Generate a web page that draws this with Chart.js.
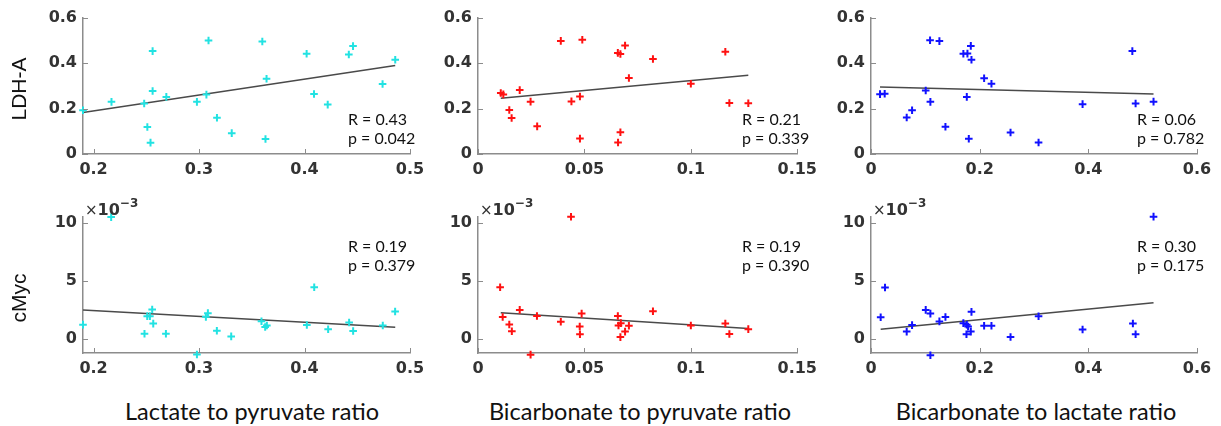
<!DOCTYPE html>
<html>
<head>
<meta charset="utf-8">
<script src="https://cdn.jsdelivr.net/npm/chart.js@4.4.1/dist/chart.umd.min.js"></script>
<style>
  html, body { margin:0; padding:0; background:#fff; }
  body { width:1221px; height:426px; position:relative; overflow:hidden; }
  canvas { position:absolute; }
  .ylab { position:absolute; width:120px; height:24px; line-height:24px; text-align:center;
          font-family:"Liberation Sans", Arial, sans-serif; font-size:21px; color:#111;
          transform:rotate(-90deg); transform-origin:50% 50%; white-space:nowrap; }
  .xtitle { position:absolute; width:400px; height:30px; line-height:30px; text-align:center;
            font-family:Lato, "Open Sans", sans-serif; font-size:23.5px; color:#111; white-space:nowrap; }
  .stat { position:absolute; font-family:Lato, "Open Sans", sans-serif; font-size:16px; color:#111; line-height:19px; white-space:nowrap; }
  .exp { position:absolute; font-family:"DejaVu Sans", sans-serif; font-weight:bold; font-size:16px; color:#333; white-space:nowrap; line-height:1; }
  .exp .times { font-weight:normal; font-size:15px; }
  .exp sup { font-size:12px; position:relative; top:-2px; }
</style>
</head>
<body>
<script>
// ---------- DATA ----------
// Column tick labels
const xTicksLacPyr = [0.2, 0.3, 0.4, 0.5];
const xLabelsLacPyr = ['0.2', '0.3', '0.4', '0.5'];
const xTicksBicPyr = [0, 0.05, 0.1, 0.15];
const xLabelsBicPyr = ['0', '0.05', '0.1', '0.15'];
const xTicksBicLac = [0, 0.2, 0.4, 0.6];
const xLabelsBicLac = ['0', '0.2', '0.4', '0.6'];
const yTicksLDH = [0, 0.2, 0.4, 0.6];
const yLabelsLDH = ['0', '0.2', '0.4', '0.6'];
const yTicksMyc = [0, 5, 10];            // units of 10^-3
const yLabelsMyc = ['0', '5', '10'];

// LDH-A vs Lactate to pyruvate ratio
const ldhLacPyrX = [0.190,0.217,0.256,0.256,0.248,0.251,0.254,0.269,0.298,0.307,0.309,0.317,0.331,0.360,0.364,0.363,0.402,0.409,0.422,0.442,0.446,0.474,0.486];
const ldhLacPyrY = [0.193,0.230,0.454,0.278,0.223,0.119,0.050,0.252,0.230,0.262,0.501,0.160,0.092,0.496,0.332,0.066,0.442,0.265,0.218,0.439,0.476,0.309,0.416];
const ldhLacPyrFitX = [0.190, 0.486];
const ldhLacPyrFitY = [0.183, 0.390];

// LDH-A vs Bicarbonate to pyruvate ratio
const ldhBicPyrX = [0.0107,0.0119,0.0196,0.0147,0.0158,0.0247,0.0278,0.0389,0.0490,0.0439,0.0479,0.0479,0.0657,0.0669,0.0691,0.0709,0.0669,0.0658,0.0822,0.1000,0.1162,0.1181,0.1270];
const ldhBicPyrY = [0.269,0.263,0.282,0.194,0.159,0.231,0.122,0.499,0.504,0.232,0.254,0.068,0.446,0.441,0.479,0.335,0.096,0.051,0.419,0.310,0.451,0.225,0.224];
const ldhBicPyrFitX = [0.0107, 0.127];
const ldhBicPyrFitY = [0.246, 0.347];

// LDH-A vs Bicarbonate to lactate ratio
const ldhBicLacX = [0.0166,0.0252,0.0657,0.0756,0.1007,0.1093,0.1087,0.1259,0.137,0.170,0.1775,0.1837,0.1849,0.1763,0.180,0.2082,0.2217,0.2568,0.3084,0.3894,0.481,0.487,0.520];
const ldhBicLacY = [0.264,0.266,0.161,0.193,0.280,0.230,0.502,0.498,0.120,0.442,0.443,0.477,0.416,0.252,0.067,0.334,0.310,0.095,0.051,0.220,0.454,0.223,0.231];
const ldhBicLacFitX = [0.0166, 0.520];
const ldhBicLacFitY = [0.296, 0.265];

// cMyc (x10^-3) vs Lactate to pyruvate ratio
const mycLacPyrX = [0.190,0.2167,0.2483,0.2509,0.2534,0.2556,0.2566,0.2686,0.298,0.3065,0.3084,0.3169,0.3305,0.3592,0.3627,0.3643,0.4022,0.4092,0.4224,0.4423,0.4461,0.4742,0.4859];
const mycLacPyrY = [1.24,10.49,0.46,1.97,1.97,2.54,1.33,0.46,-1.33,1.91,2.23,0.72,0.23,1.53,1.04,1.16,1.21,4.45,0.84,1.42,0.69,1.16,2.37];
const mycLacPyrFitX = [0.190, 0.486];
const mycLacPyrFitY = [2.49, 1.01];

// cMyc (x10^-3) vs Bicarbonate to pyruvate ratio
const mycBicPyrX = [0.0104,0.0116,0.0196,0.0147,0.0159,0.0247,0.0277,0.0389,0.0437,0.0478,0.0479,0.0487,0.0657,0.066,0.0671,0.0669,0.0691,0.0709,0.0822,0.1,0.1162,0.1181,0.127];
const mycBicPyrY = [4.46,1.90,2.51,1.25,0.67,-1.34,1.98,1.49,10.52,1.08,0.41,2.19,1.98,1.17,1.37,0.17,0.64,1.14,2.39,1.17,1.34,0.44,0.85];
const mycBicPyrFitX = [0.0107, 0.127];
const mycBicPyrFitY = [2.27, 0.90];

// cMyc (x10^-3) vs Bicarbonate to lactate ratio
const mycBicLacX = [0.0178,0.0258,0.0657,0.0756,0.1007,0.1093,0.1093,0.1259,0.137,0.170,0.1763,0.1787,0.1757,0.1837,0.1849,0.2082,0.2217,0.2568,0.3084,0.3894,0.482,0.487,0.520];
const mycBicLacY = [1.87,4.44,0.64,1.20,2.51,2.19,-1.40,1.52,1.90,1.37,1.23,1.08,0.41,0.64,2.34,1.14,1.14,0.18,1.96,0.82,1.34,0.41,10.53];
const mycBicLacFitX = [0.0178, 0.520];
const mycBicLacFitY = [0.85, 3.13];

// Texts
const rowLabels = ['LDH-A', 'cMyc'];
const colTitles = ['Lactate to pyruvate ratio', 'Bicarbonate to pyruvate ratio', 'Bicarbonate to lactate ratio'];
const statR = [['0.43','0.21','0.06'], ['0.19','0.19','0.30']];
const statP = [['0.042','0.339','0.782'], ['0.379','0.390','0.175']];

// ---------- LAYOUT ----------
const colColors = ['#22e2e2', '#ff1111', '#1111ff'];
const cols = [
  { left: 83, right: 410, min: 0.19, max: 0.5, ticks: xTicksLacPyr, labels: xLabelsLacPyr, titleX: 252, statX: 348 },
  { left: 478, right: 801, min: 0, max: 0.15, ticks: xTicksBicPyr, labels: xLabelsBicPyr, titleX: 640, statX: 742 },
  { left: 871, right: 1197, min: 0, max: 0.6, ticks: xTicksBicLac, labels: xLabelsBicLac, titleX: 1036, statX: 1137 }
];
const rows = [
  { top: 18, bottom: 154, min: 0, max: 0.6, ticks: yTicksLDH, labels: yLabelsLDH, labelY: 89, statY: 109 },
  { top: 217, bottom: 353, min: -1.2, max: 10.5, ticks: yTicksMyc, labels: yLabelsMyc, labelY: 298, statY: 236 }
];
const panelData = [
  [[ldhLacPyrX, ldhLacPyrY, ldhLacPyrFitX, ldhLacPyrFitY],
   [ldhBicPyrX, ldhBicPyrY, ldhBicPyrFitX, ldhBicPyrFitY],
   [ldhBicLacX, ldhBicLacY, ldhBicLacFitX, ldhBicLacFitY]],
  [[mycLacPyrX, mycLacPyrY, mycLacPyrFitX, mycLacPyrFitY],
   [mycBicPyrX, mycBicPyrY, mycBicPyrFitX, mycBicPyrFitY],
   [mycBicLacX, mycBicLacY, mycBicLacFitX, mycBicLacFitY]]
];

const Y_AXIS_W = 83, PAD_TOP = 18, PAD_RIGHT = 22, X_AXIS_H = 36;
const axisGray = '#8c8c8c';
const tickFont = { family: '"DejaVu Sans", sans-serif', size: 16, weight: 'bold' };

const inwardTicks = {
  id: 'inwardTicks',
  afterDraw(chart) {
    const { ctx, chartArea: a, scales: { x, y } } = chart;
    ctx.save();
    ctx.strokeStyle = axisGray;
    ctx.lineWidth = 1;
    ctx.beginPath();
    x.ticks.forEach(t => {
      const px = Math.round(x.getPixelForValue(t.value)) + 0.5;
      ctx.moveTo(px, a.bottom); ctx.lineTo(px, a.bottom - 5);
    });
    y.ticks.forEach(t => {
      const py = Math.round(y.getPixelForValue(t.value)) + 0.5;
      ctx.moveTo(a.left, py); ctx.lineTo(a.left + 5, py);
    });
    ctx.stroke();
    ctx.restore();
  }
};

function addDiv(cls, html, style) {
  const d = document.createElement('div');
  d.className = cls; d.innerHTML = html;
  Object.assign(d.style, style);
  document.body.appendChild(d);
  return d;
}

rows.forEach((row, ri) => {
  cols.forEach((col, ci) => {
    const [xs, ys, fx, fy] = panelData[ri][ci];
    const cv = document.createElement('canvas');
    const w = (col.right - col.left) + Y_AXIS_W + PAD_RIGHT;
    const h = (row.bottom - row.top) + PAD_TOP + X_AXIS_H;
    cv.width = w; cv.height = h;
    cv.style.width = w + 'px'; cv.style.height = h + 'px';
    cv.style.left = (col.left - Y_AXIS_W) + 'px';
    cv.style.top = (row.top - PAD_TOP) + 'px';
    document.body.appendChild(cv);

    new Chart(cv, {
      type: 'scatter',
      data: {
        datasets: [
          {
            data: xs.map((v, i) => ({ x: v, y: ys[i] })),
            pointStyle: 'cross', pointRadius: 3.8, pointBorderWidth: 2,
            borderColor: colColors[ci], backgroundColor: colColors[ci],
            clip: false, order: 1
          },
          {
            type: 'line',
            data: fx.map((v, i) => ({ x: v, y: fy[i] })),
            borderColor: '#4a4a4a', borderWidth: 1.5, pointRadius: 0,
            fill: false, tension: 0, clip: false, order: 2
          }
        ]
      },
      options: {
        responsive: false, animation: false, devicePixelRatio: 1,
        layout: { padding: { left: 0, top: PAD_TOP, right: PAD_RIGHT, bottom: 0 } },
        plugins: { legend: { display: false }, tooltip: { enabled: false } },
        scales: {
          x: {
            type: 'linear', min: col.min, max: col.max,
            grid: { display: false, drawTicks: false },
            border: { display: true, color: axisGray, width: 1.5 },
            afterBuildTicks: s => { s.ticks = col.ticks.map(v => ({ value: v })); },
            afterFit: s => { s.height = X_AXIS_H; },
            ticks: { autoSkip: false, maxRotation: 0, padding: 6, color: '#333', font: tickFont,
                     callback: (v, i) => col.labels[i] }
          },
          y: {
            type: 'linear', min: row.min, max: row.max,
            grid: { display: false, drawTicks: false },
            border: { display: true, color: axisGray, width: 1.5 },
            afterBuildTicks: s => { s.ticks = row.ticks.map(v => ({ value: v })); },
            afterFit: s => { s.width = Y_AXIS_W; },
            ticks: { autoSkip: false, padding: 6, color: '#333', font: tickFont,
                     callback: (v, i) => row.labels[i] }
          }
        }
      },
      plugins: [inwardTicks]
    });

    addDiv('stat', 'R = ' + statR[ri][ci] + '<br>p = ' + statP[ri][ci],
           { left: col.statX + 'px', top: row.statY + 'px' });
    if (ri === 1) {
      addDiv('exp', '<span class="times">×</span>10<sup>−3</sup>',
             { left: (col.left + 2) + 'px', top: '199px' });
    }
  });
  // rotated row label, centred on (19, labelY)
  addDiv('ylab', rowLabels[ri], { left: (19 - 60) + 'px', top: (row.labelY - 12) + 'px' });
});
cols.forEach((col, ci) => {
  addDiv('xtitle', colTitles[ci], { left: (col.titleX - 200) + 'px', top: '396px' });
});
</script>
</body>
</html>
